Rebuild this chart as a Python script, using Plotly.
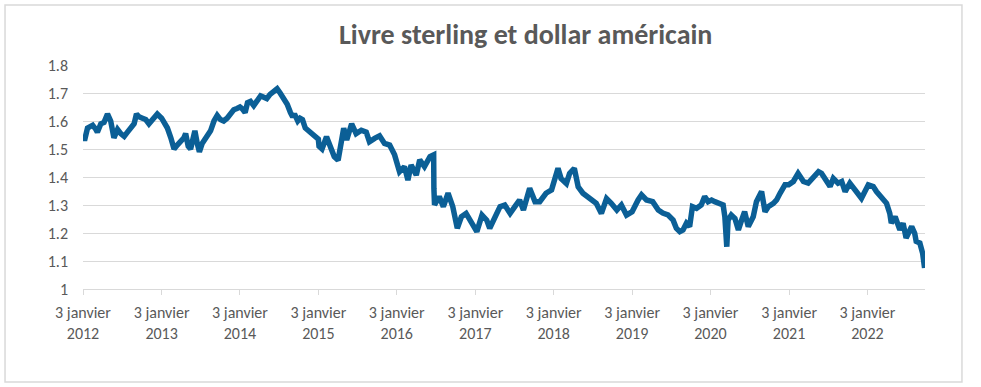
import plotly.graph_objects as go

# Values (GBP/USD)
dates = [
    "2012-01-03", "2012-01-10", "2012-01-24", "2012-02-08", "2012-02-17", "2012-03-03", "2012-03-10",
    "2012-03-26", "2012-04-10", "2012-04-26", "2012-05-11", "2012-05-26", "2012-06-12", "2012-06-27",
    "2012-07-13", "2012-07-28", "2012-08-12", "2012-08-28", "2012-09-08", "2012-09-20", "2012-10-06",
    "2012-10-21", "2012-11-05", "2012-11-21", "2012-12-14",
    "2013-01-03", "2013-01-15", "2013-01-30", "2013-02-15", "2013-03-02", "2013-03-18", "2013-04-02",
    "2013-04-17", "2013-04-25", "2013-05-07", "2013-05-18", "2013-05-29", "2013-06-07", "2013-06-18",
    "2013-06-28", "2013-07-11", "2013-07-24", "2013-08-04", "2013-08-19", "2013-09-04", "2013-09-19",
    "2013-10-04", "2013-10-19", "2013-11-04", "2013-11-20", "2013-12-05", "2013-12-20",
    "2014-01-03", "2014-01-12", "2014-01-27", "2014-02-07", "2014-02-21", "2014-03-08", "2014-03-24",
    "2014-04-09", "2014-04-24", "2014-05-08", "2014-05-23", "2014-06-10", "2014-06-25", "2014-07-09",
    "2014-07-24", "2014-08-11", "2014-08-26", "2014-09-02", "2014-09-17", "2014-09-29", "2014-10-10",
    "2014-10-21", "2014-11-03", "2014-11-18", "2014-12-02", "2014-12-19",
    "2015-01-03", "2015-01-06", "2015-01-20", "2015-02-10", "2015-02-24", "2015-03-18", "2015-04-05",
    "2015-04-20", "2015-05-01", "2015-05-15", "2015-06-07", "2015-06-28", "2015-07-22", "2015-08-14",
    "2015-08-29", "2015-09-22", "2015-10-15", "2015-11-07", "2015-12-01", "2015-12-24",
    "2016-01-16", "2016-02-08", "2016-02-24", "2016-03-10", "2016-04-03", "2016-04-19", "2016-05-11",
    "2016-06-06", "2016-06-23", "2016-06-24", "2016-06-27", "2016-07-19", "2016-08-07", "2016-08-29",
    "2016-09-20", "2016-10-11", "2016-10-30", "2016-11-21", "2016-12-09",
    "2017-01-10", "2017-02-03", "2017-02-25", "2017-03-11", "2017-04-06", "2017-04-28", "2017-05-20",
    "2017-06-14", "2017-07-06", "2017-07-28", "2017-08-15", "2017-09-13", "2017-10-08", "2017-10-30",
    "2017-11-28", "2017-12-24",
    "2018-01-23", "2018-02-06", "2018-03-03", "2018-03-18", "2018-04-09", "2018-04-27", "2018-05-19",
    "2018-06-12", "2018-07-05", "2018-07-20", "2018-08-13", "2018-09-06", "2018-09-28", "2018-10-24",
    "2018-11-14", "2018-12-08",
    "2019-01-03", "2019-01-17", "2019-01-31", "2019-02-16", "2019-03-11", "2019-04-09", "2019-05-05",
    "2019-05-26", "2019-06-19", "2019-07-13", "2019-07-28", "2019-08-13", "2019-08-28", "2019-09-13",
    "2019-09-28", "2019-10-11", "2019-10-30", "2019-11-21", "2019-12-07", "2019-12-23",
    "2020-01-08", "2020-01-23", "2020-02-16", "2020-03-02", "2020-03-10", "2020-03-19", "2020-03-25",
    "2020-04-09", "2020-04-26", "2020-05-12", "2020-05-27", "2020-06-10", "2020-06-27", "2020-07-20",
    "2020-08-04", "2020-08-28", "2020-09-13", "2020-09-28", "2020-10-22", "2020-11-06", "2020-11-22",
    "2020-12-15",
    "2021-01-01", "2021-01-23", "2021-02-14", "2021-03-11", "2021-04-02", "2021-04-26", "2021-05-20",
    "2021-06-03", "2021-06-27", "2021-07-13", "2021-07-28", "2021-08-19", "2021-09-05", "2021-09-21",
    "2021-10-13", "2021-11-07", "2021-12-06",
    "2022-01-07", "2022-01-30", "2022-02-14", "2022-03-11", "2022-04-02", "2022-04-17", "2022-04-24",
    "2022-05-12", "2022-06-03", "2022-06-18", "2022-07-02", "2022-07-28", "2022-08-11", "2022-08-18",
    "2022-09-04", "2022-09-17", "2022-09-22", "2022-09-26",
]

gbp_usd = [
    1.55, 1.53, 1.575, 1.58, 1.585, 1.57, 1.56,
    1.59, 1.595, 1.625, 1.60, 1.54, 1.57, 1.555,
    1.545, 1.56, 1.575, 1.59, 1.625, 1.615, 1.61,
    1.605, 1.59, 1.605, 1.625,
    1.61, 1.595, 1.575, 1.54, 1.50, 1.515, 1.525,
    1.54, 1.555, 1.51, 1.50, 1.55, 1.565, 1.52,
    1.49, 1.52, 1.535, 1.55, 1.565, 1.60, 1.62,
    1.605, 1.60, 1.61, 1.63, 1.64, 1.645,
    1.65, 1.645, 1.63, 1.665, 1.67, 1.655, 1.67,
    1.69, 1.685, 1.68, 1.695, 1.705, 1.715, 1.70,
    1.68, 1.66, 1.63, 1.62, 1.62, 1.60, 1.61,
    1.605, 1.575, 1.565, 1.56, 1.55,
    1.535, 1.51, 1.50, 1.544, 1.52, 1.473, 1.46,
    1.532, 1.574, 1.532, 1.59, 1.555, 1.567, 1.56,
    1.526, 1.538, 1.547, 1.52, 1.514, 1.479,
    1.419, 1.437, 1.389, 1.443, 1.407, 1.461, 1.437,
    1.473, 1.479, 1.36, 1.30, 1.33, 1.294, 1.342,
    1.294, 1.217, 1.258, 1.270, 1.246,
    1.205, 1.264, 1.246, 1.217, 1.264, 1.294, 1.30,
    1.270, 1.294, 1.318, 1.282, 1.360, 1.312, 1.312,
    1.342, 1.354,
    1.431, 1.395, 1.377, 1.413, 1.431, 1.365, 1.342,
    1.330, 1.318, 1.306, 1.270, 1.323, 1.306, 1.282,
    1.30, 1.264,
    1.276, 1.30, 1.318, 1.336, 1.318, 1.312, 1.282,
    1.271, 1.265, 1.246, 1.217, 1.205, 1.211, 1.235,
    1.223, 1.294, 1.288, 1.30, 1.330, 1.312,
    1.318, 1.312, 1.306, 1.30, 1.258, 1.151, 1.246,
    1.264, 1.252, 1.211, 1.246, 1.276, 1.223, 1.258,
    1.312, 1.348, 1.276, 1.294, 1.306, 1.318, 1.342,
    1.372,
    1.372, 1.384, 1.413, 1.384, 1.378, 1.401, 1.419,
    1.413, 1.389, 1.366, 1.395, 1.378, 1.384, 1.348,
    1.378, 1.354, 1.324,
    1.372, 1.366, 1.348, 1.324, 1.306, 1.270, 1.235,
    1.258, 1.211, 1.235, 1.182, 1.223, 1.199, 1.170,
    1.164, 1.128, 1.08, 1.075,
]

tick_dates = ["2012-01-03", "2013-01-03", "2014-01-03", "2015-01-03", "2016-01-03", "2017-01-03",
              "2018-01-03", "2019-01-03", "2020-01-03", "2021-01-03", "2022-01-03"]
tick_labels = ["3 janvier<br>" + d[:4] for d in tick_dates]
y_ticks = [1, 1.1, 1.2, 1.3, 1.4, 1.5, 1.6, 1.7, 1.8]
y_labels = ["1", "1.1", "1.2", "1.3", "1.4", "1.5", "1.6", "1.7", "1.8"]

FONT = "Carlito, Calibri, Lato, sans-serif"
GREY = "#595959"
GRID = "#D9D9D9"

fig = go.Figure()
fig.add_trace(go.Scatter(
    x=dates, y=gbp_usd, mode="lines",
    line=dict(color="#0B5F96", width=5.5),
    hoverinfo="skip", showlegend=False,
))

fig.update_layout(
    width=981, height=387,
    margin=dict(l=83, r=56, t=65, b=98),
    paper_bgcolor="white", plot_bgcolor="white",
    font=dict(family=FONT, color=GREY, size=16),
    showlegend=False,
    annotations=[dict(
        text="<b>Livre sterling et dollar américain</b>",
        xref="paper", yref="paper", x=0.525, y=1.135,
        xanchor="center", yanchor="middle", showarrow=False,
        font=dict(family=FONT, size=28, color=GREY),
    )],
    shapes=[dict(
        type="rect", xref="paper", yref="paper",
        x0=-0.0926, x1=1.0439, y0=-0.415, y1=1.268,
        line=dict(color=GRID, width=1.5), fillcolor="rgba(0,0,0,0)", layer="below",
    )],
)

fig.update_xaxes(
    type="date",
    range=["2012-01-03", "2022-09-28"],
    tickvals=tick_dates, ticktext=tick_labels,
    showgrid=False, zeroline=False,
    showline=True, linecolor=GRID, linewidth=1,
    ticks="outside", ticklen=5, tickcolor=GRID, tickwidth=1,
    ticklabelstandoff=4,
    tickfont=dict(family=FONT, size=16, color=GREY),
    tickangle=0,
)
fig.update_yaxes(
    range=[1, 1.8],
    tickvals=y_ticks, ticktext=y_labels,
    showgrid=True, gridcolor=GRID, gridwidth=1,
    zeroline=False, showline=False,
    ticks="", ticklabelstandoff=14,
    tickfont=dict(family=FONT, size=16, color=GREY),
)

fig.write_html("out.html", config={"displayModeBar": False},
               post_script="document.body.style.margin='0';")
